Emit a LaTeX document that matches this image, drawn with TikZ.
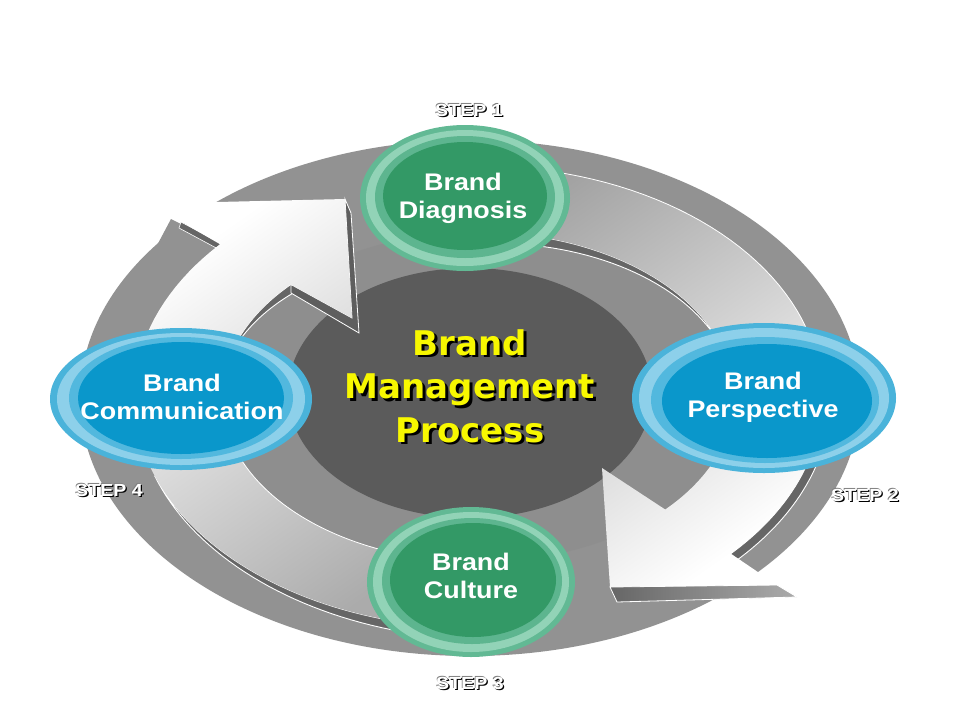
\documentclass[tikz,border=0pt]{standalone}
\usepackage{fontspec}
\newfontfamily\lblfont{Liberation Sans}[FakeStretch=1.12]
\newfontfamily\ttlfont{DejaVu Sans}
\definecolor{outgray}{HTML}{929292}
\definecolor{ringgray}{HTML}{8E8E8E}
\definecolor{hubgray}{HTML}{5B5B5B}
\definecolor{stripgray}{HTML}{666666}
\definecolor{hdshadow}{HTML}{5E5E5E}
\definecolor{bandlo}{HTML}{ABABAB}
\definecolor{bandhi}{HTML}{A2A2A2}
\definecolor{grnring}{HTML}{62B994}
\definecolor{grnlight}{HTML}{92D3B7}
\definecolor{grnmid}{HTML}{5DB58F}
\definecolor{grncore}{HTML}{339966}
\definecolor{bluring}{HTML}{4AB3DA}
\definecolor{blulight}{HTML}{8DD0EA}
\definecolor{blumid}{HTML}{52B8DE}
\definecolor{blucore}{HTML}{0A97CB}
\definecolor{ttlyellow}{HTML}{F8F800}
\begin{document}
\begin{tikzpicture}[x=1pt,y=-1pt,
  strip/.style={fill=stripgray, draw=white, line width=0.9pt},
  edge/.style={draw=white, line width=0.8pt},
  stage/.style={inner sep=0pt, text=white, align=center,
    font=\lblfont\bfseries\fontsize{24}{28}\selectfont},
  steplbl/.style={inner sep=0pt, font=\lblfont\bfseries\fontsize{17.5}{20}\selectfont},
  ttl/.style={inner sep=0pt, align=center, font=\ttlfont\bfseries\fontsize{34}{43.5}\selectfont}]

	\useasboundingbox (0,0) rectangle (960,720);
	\fill[white] (0,0) rectangle (960,720);

	\fill[outgray] (470,398) ellipse [x radius=390, y radius=258];
	\fill[ringgray] (478,397) ellipse [x radius=256, y radius=165];
	\fill[hubgray] (470,393) ellipse [x radius=182, y radius=125];
	\fill[outgray] (112,330) -- (171,219) -- (222,245) -- (232,300) -- cycle;

	\fill[strip] plot[domain=160:92,samples=40] ({478+344*cos(\x)},{397+231*sin(\x)})
		-- plot[domain=92:160,samples=40] ({478+(344+11*(160-(\x))/68)*cos(\x)},{397+(231+11*(160-(\x))/68)*sin(\x)}) -- cycle;
	\fill[strip] plot[domain=5:48,samples=30] ({478+344*cos(\x)},{397+231*sin(\x)})
		-- plot[domain=48:5,samples=30] ({478+353*cos(\x)},{397+240*sin(\x)}) -- cycle;
	\fill[strip] plot[domain=195:223,samples=20] ({478+256*cos(\x)},{397+165*sin(\x)})
		-- plot[domain=223:195,samples=20] ({478+(256-9*((\x)-195)/28)*cos(\x)},{397+(165-9*((\x)-195)/28)*sin(\x)}) -- cycle;
	\fill[strip] plot[domain=-100:-17,samples=40] ({478+256*cos(\x)},{397+165*sin(\x)})
		-- plot[domain=-17:-100,samples=40] ({478+(256-13*(-17-(\x))/83)*cos(\x)},{397+(165-13*(-17-(\x))/83)*sin(\x)}) -- cycle;

	\fill[fill=hdshadow, draw=white, line width=0.8pt] (345,199) -- (351,213) -- (359,333) -- (291,293) -- (291,284.5) -- (352,318) -- cycle;
	\fill[fill=stripgray, draw=white, line width=0.6pt] (181,222) -- (222,244) -- (220,250) -- (179,228) -- cycle;
	\shade[left color=stripgray, right color=bandlo, draw=white, line width=0.8pt] (610,587) -- (777,585) -- (797,597) -- (617,602) -- cycle;

	\shade[top color=white, bottom color=bandlo, shading angle=35]
		(168,214) -- (220,244.2)
		-- plot[domain=221.4:95,samples=60] ({478+344*cos(\x)},{397+231*sin(\x)})
		-- plot[domain=95:223,samples=60] ({478+256*cos(\x)},{397+165*sin(\x)})
		-- (352,318) -- (345,199) -- (175,203) -- cycle;
	\shade[top color=bandhi, bottom color=white, shading angle=35]
		plot[domain=-95:42.7,samples=70] ({478+344*cos(\x)},{397+231*sin(\x)})
		-- (777,585) -- (610,587) -- (602,468)
		-- plot[domain=43:-95,samples=70] ({478+256*cos(\x)},{397+165*sin(\x)}) -- cycle;
	\draw[edge] plot[domain=-82:8,samples=40] ({478+344*cos(\x)},{397+231*sin(\x)});
	\draw[edge] plot[domain=98:175,samples=40] ({478+256*cos(\x)},{397+165*sin(\x)});

	\fill[grnring] (465,198) ellipse [x radius=105, y radius=73];
	\fill[grnlight] (465,198) ellipse [x radius=99, y radius=68];
	\fill[grnmid] (465,197) ellipse [x radius=90, y radius=61];
	\fill[grncore] (465,196) ellipse [x radius=82, y radius=54];

	\fill[grnring] (471,582) ellipse [x radius=104, y radius=75];
	\fill[grnlight] (471,582) ellipse [x radius=98, y radius=70];
	\fill[grnmid] (472,581) ellipse [x radius=90, y radius=63];
	\fill[grncore] (473,580) ellipse [x radius=83, y radius=57];

	\fill[bluring] (181,399) ellipse [x radius=131, y radius=71];
	\fill[blulight] (181,399) ellipse [x radius=124, y radius=66];
	\fill[blumid] (181,398) ellipse [x radius=112, y radius=61];
	\fill[blucore] (181,398) ellipse [x radius=103, y radius=56];

	\fill[bluring] (764,398) ellipse [x radius=132, y radius=75];
	\fill[blulight] (764,398) ellipse [x radius=125, y radius=70];
	\fill[blumid] (765,400) ellipse [x radius=114, y radius=63];
	\fill[blucore] (767,401) ellipse [x radius=105, y radius=57];

	\node[stage] (diag) at (463,198) {Brand\\Diagnosis};
	\node[stage] (persp) at (763,397) {Brand\\Perspective};
	\node[stage] (cult) at (471,576) {Brand\\Culture};
	\node[stage] (comm) at (182,397) {Brand\\Communication};

	\node[ttl, text=black] at (472.5,388.5) {Brand\\Management\\Process};
	\node[ttl, text=ttlyellow] (hub) at (470,386) {Brand\\Management\\Process};

	\foreach \nm/\px/\py/\n in {stepa/469/110/1, stepb/865/495/2, stepc/470/683/3, stepd/109/490/4}{
		\node[steplbl, text=black] at (\px+1.3,\py+1.3) {STEP \n};
		\node[steplbl, text=gray] at (\px-0.7,\py-0.7) {STEP \n};
		\node[steplbl, text=white] (\nm) at (\px,\py) {STEP \n};
	}
\end{tikzpicture}
\end{document}
